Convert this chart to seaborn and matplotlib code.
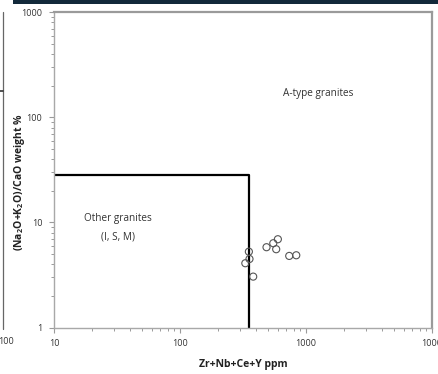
import matplotlib
matplotlib.use("Agg")
import matplotlib.pyplot as plt
import matplotlib.ticker as mticker
from matplotlib.patches import Rectangle
from matplotlib.lines import Line2D
import seaborn as sns
import pandas as pd

# Sample compositions
zr_nb_ce_y = [352, 356, 330, 381, 486, 550, 598, 580, 736, 837]
alkali_ratio = [5.27, 4.49, 4.09, 3.05, 5.81, 6.34, 6.92, 5.56, 4.80, 4.87]

# Field boundary (Whalen et al.)
boundary_x = [10, 350, 350]
boundary_y = [28, 28, 1]

x_ticks = [10, 100, 1000, 10000]
x_tick_labels = ["10", "100", "1000", "1000"]
y_ticks = [1, 10, 100, 1000]
y_tick_labels = ["1", "10", "100", "1000"]

sns.set_style("white")
plt.rcParams["font.family"] = ["Open Sans", "DejaVu Sans"]
plt.rcParams["mathtext.fontset"] = "custom"
plt.rcParams["mathtext.rm"] = "Open Sans"
plt.rcParams["mathtext.bf"] = "Open Sans:bold"

df = pd.DataFrame({"x": zr_nb_ce_y, "y": alkali_ratio})

fig = plt.figure(figsize=(4.39, 3.74), dpi=100)
ax = fig.add_axes([54 / 439, 1 - 327.5 / 374, (432 - 54) / 439, (327.5 - 12.3) / 374])

ax.set_xscale("log")
ax.set_yscale("log")
ax.set_xlim(10, 10000)
ax.set_ylim(1, 1000)

ax.plot(boundary_x, boundary_y, color="black", lw=1.6, solid_capstyle="butt", zorder=2)

sns.scatterplot(data=df, x="x", y="y", ax=ax, marker="o", s=26,
                facecolor="none", edgecolor="#555555", linewidth=0.8, zorder=3)

ax.set_xticks(x_ticks)
ax.set_xticklabels(x_tick_labels)
ax.set_yticks(y_ticks)
ax.set_yticklabels(y_tick_labels)
ax.xaxis.set_minor_locator(mticker.LogLocator(base=10, subs=range(2, 10)))
ax.yaxis.set_minor_locator(mticker.LogLocator(base=10, subs=range(2, 10)))
ax.xaxis.set_minor_formatter(mticker.NullFormatter())
ax.yaxis.set_minor_formatter(mticker.NullFormatter())

ax.tick_params(axis="both", which="major", direction="out", length=3.5, width=0.8,
               color="#9a9a9a", labelsize=6.5, labelcolor="#333333", pad=5,
               bottom=True, left=True)
ax.tick_params(axis="both", which="minor", direction="out", length=2.5, width=0.7,
               color="#9a9a9a", bottom=True, left=True)

for side in ["left", "bottom"]:
    ax.spines[side].set_color("#a8a8a8")
    ax.spines[side].set_linewidth(1.0)
for side in ["top", "right"]:
    ax.spines[side].set_color("#9a9a9a")
    ax.spines[side].set_linewidth(1.6)

ax.set_xlabel("Zr+Nb+Ce+Y ppm", fontsize=7.5, fontweight="bold", color="#222222", labelpad=8)
ax.set_ylabel(r"(Na$_\mathbf{2}$O+K$_\mathbf{2}$O)/CaO weight %", fontsize=7.5,
              fontweight="bold", color="#222222")
ax.yaxis.set_label_coords(-0.072, 0.46)

ax.text(1245, 168, "A-type granites", fontsize=7.2, color="#333333", ha="center", va="center")
ax.text(32, 11.0, "Other granites", fontsize=7.2, color="#333333", ha="center", va="center")
ax.text(32, 7.3, "(I, S, M)", fontsize=7.2, color="#333333", ha="center", va="center")

# Surrounding page elements: header band and neighbouring panel edge
fig.patches.append(Rectangle((13 / 439, 1 - 3.5 / 374), 1, 3.5 / 374, transform=fig.transFigure,
                             facecolor="#12293a", edgecolor="none", zorder=0))
fig.add_artist(Line2D([2.5 / 439, 2.5 / 439], [1 - 329 / 374, 1 - 12 / 374],
                      transform=fig.transFigure, color="#666666", lw=0.9))
fig.add_artist(Line2D([0, 3 / 439], [1 - 91 / 374, 1 - 91 / 374],
                      transform=fig.transFigure, color="#333333", lw=1.2))
fig.text(-2 / 439, 1 - 341 / 374, "100", fontsize=6.5, color="#333333", ha="left", va="center")

fig.savefig("out.png", dpi=100)
